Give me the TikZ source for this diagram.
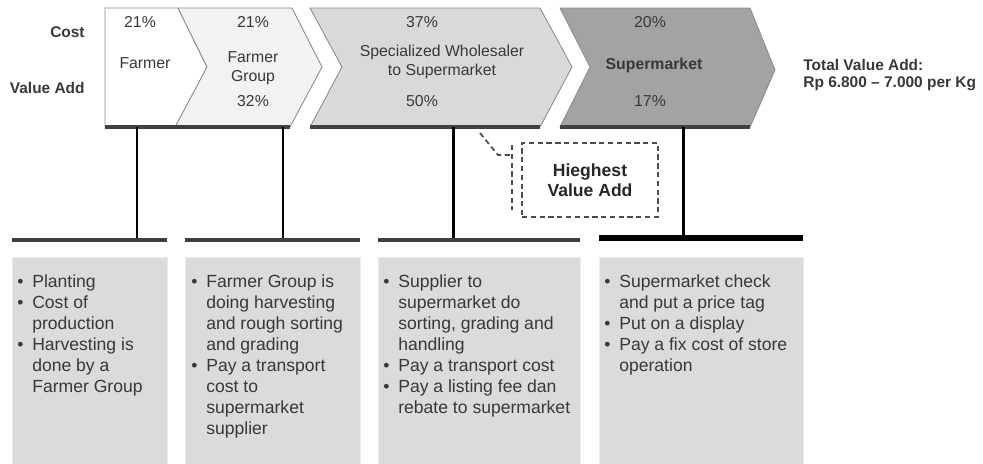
\documentclass[tikz,border=0pt]{standalone}
\usepackage{fontspec}
\setmainfont{Liberation Sans}
\usetikzlibrary{positioning}
\definecolor{chevtwo}{HTML}{F2F2F2}
\definecolor{chevthree}{HTML}{D9D9D9}
\definecolor{chevfour}{HTML}{A3A3A3}
\definecolor{boxgray}{HTML}{DBDBDB}
\definecolor{inkgray}{HTML}{383838}

\begin{document}
\begin{tikzpicture}[x=0.02cm, y=-0.02cm,
    chev/.style={draw=black!45, line width=0.5pt},
    rim/.style={draw=black!75, line width=2.2pt},
    stem/.style={draw=black, line width=1.7pt},
    bar/.style={draw=black!75, line width=2.8pt},
    infobox/.style={fill=boxgray, draw=black!8, line width=0.4pt},
    chevtext/.style={text=inkgray, font=\fontsize{9}{11}\selectfont, align=center, inner sep=0pt},
    sidetext/.style={text=inkgray, font=\fontsize{8.8}{9.5}\selectfont\bfseries, inner sep=0pt},
    boxtext/.style={text=inkgray, anchor=north west, inner sep=0pt,
      font=\fontsize{10}{11.9}\selectfont},
    callout/.style={draw=black!70, densely dashed, line width=1pt}
  ]
    \useasboundingbox (0,0) rectangle (983,463);

    % chevrons
    \draw[chev, fill=white] (105,8) -- (178,8) -- (207,67) -- (177,127) -- (105,127) -- cycle;
    \draw[chev, fill=chevtwo] (178,8) -- (292,8) -- (322,67) -- (290,127) -- (175,127) -- (207,67) -- cycle;
    \draw[chev, fill=chevthree] (310,8) -- (540,8) -- (572,67) -- (540,127) -- (310,127) -- (342,67) -- cycle;
    \draw[chev, fill=chevfour] (560,8) -- (750,8) -- (775,70) -- (750,127) -- (560,127) -- (590,67) -- cycle;
    \draw[rim] (105,127) -- (177,127);
    \draw[rim] (177,127) -- (290,127);
    \draw[rim] (310,127) -- (540,127);
    \draw[rim] (560,127) -- (750,127);

    \node[sidetext, anchor=east] (cost) at (85,32) {Cost};
    \node[sidetext, anchor=east] (valueadd) at (85,88) {Value Add};

    \node[chevtext] (farmercost) at (140,22) {21\%};
    \node[chevtext] (farmer) at (145,63) {Farmer};
    \node[chevtext] (groupcost) at (253,22) {21\%};
    \node[chevtext] (group) at (253,68) {Farmer\\Group};
    \node[chevtext] (groupadd) at (253,101) {32\%};
    \node[chevtext] (wholecost) at (422,22) {37\%};
    \node[chevtext] (whole) at (442,62) {Specialized Wholesaler\\to Supermarket};
    \node[chevtext] (wholeadd) at (422,101) {50\%};
    \node[chevtext] (supercost) at (650,22) {20\%};
    \node[chevtext, font=\fontsize{9}{11}\selectfont\bfseries] (super) at (654,65) {Supermarket};
    \node[chevtext] (superadd) at (650,101) {17\%};

    \node[sidetext, anchor=west, align=left] (total) at (803,75) {Total Value Add:\\Rp 6.800 -- 7.000 per Kg};

    % stems and bars
    \coordinate (s1) at (137,127);
    \coordinate (s2) at (283,127);
    \coordinate (s3) at (453,127);
    \coordinate (s4) at (683,127);
    \coordinate (t1) at (137,239);
    \coordinate (t2) at (283,239);
    \coordinate (t3) at (453,239);
    \coordinate (t4) at (683,238);
    \draw[stem] (s1) -- (t1);
    \draw[stem] (s2) -- (t2);
    \draw[stem] (s3) -- (t3);
    \draw[stem] (s4) -- (t4);
    \draw[bar] (12,240) -- (167,240);
    \draw[bar] (185,240) -- (360,240);
    \draw[bar] (378,240) -- (580,240);
    \draw[bar, draw=black, line width=3.4pt] (599,238) -- (803,238);

    % callout
    \node[callout, minimum width=136*0.02cm, minimum height=74*0.02cm, inner sep=0pt,
      align=center, font=\fontsize{10}{11.5}\selectfont\bfseries, text=black!85]
      (highest) at (590,180) {Hieghest\\Value Add};
    \coordinate (accenttop) at (512,145);
    \coordinate (accentbot) at (512,210);
    \coordinate (knee) at (498,155);
    \coordinate (tip) at (480,133);
    \draw[callout] (accenttop) -- (accentbot);
    \draw[callout] (tip) -- (knee) -- (512,155);

    % activity boxes
    \fill[infobox] (12,257) rectangle (167,470);
    \fill[infobox] (185,257) rectangle (360,470);
    \fill[infobox] (378,257) rectangle (580,470);
    \fill[infobox] (599,257) rectangle (803,470);

    \node[boxtext] (farmerjobs) at (17,273) {%
      \begin{tabular}{@{}l@{\hspace{5pt}}l@{}}
        \textbullet & Planting\\
        \textbullet & Cost of\\
                    & production\\
        \textbullet & Harvesting is\\
                    & done by a\\
                    & Farmer Group
      \end{tabular}};
    \node[boxtext] (groupjobs) at (191,273) {%
      \begin{tabular}{@{}l@{\hspace{5pt}}l@{}}
        \textbullet & Farmer Group is\\
                    & doing harvesting\\
                    & and rough sorting\\
                    & and grading\\
        \textbullet & Pay a transport\\
                    & cost to\\
                    & supermarket\\
                    & supplier
      \end{tabular}};
    \node[boxtext] (wholejobs) at (383,273) {%
      \begin{tabular}{@{}l@{\hspace{5pt}}l@{}}
        \textbullet & Supplier to\\
                    & supermarket do\\
                    & sorting, grading and\\
                    & handling\\
        \textbullet & Pay a transport cost\\
        \textbullet & Pay a listing fee dan\\
                    & rebate to supermarket
      \end{tabular}};
    \node[boxtext] (superjobs) at (604,273) {%
      \begin{tabular}{@{}l@{\hspace{5pt}}l@{}}
        \textbullet & Supermarket check\\
                    & and put a price tag\\
        \textbullet & Put on a display\\
        \textbullet & Pay a fix cost of store\\
                    & operation
      \end{tabular}};
\end{tikzpicture}
\end{document}
